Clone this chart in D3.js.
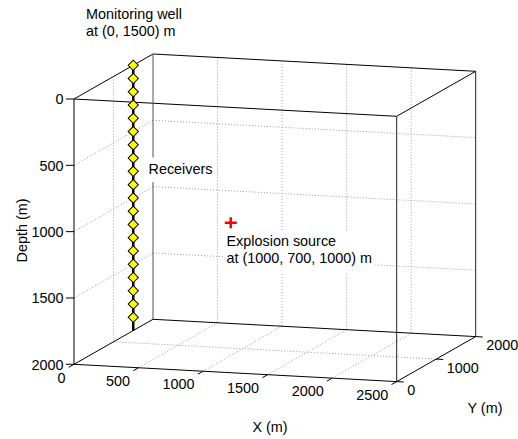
<!DOCTYPE html>
<html>
<head>
<meta charset="utf-8">
<script src="https://cdn.jsdelivr.net/npm/d3@7/dist/d3.min.js"></script>
<style>
  html, body { margin: 0; padding: 0; background: #fff; }
  svg text { font-family: "Liberation Sans", Arial, Helvetica, sans-serif; font-size: 14.4px; fill: #000; }
</style>
</head>
<body>
<svg id="chart" width="518" height="439"></svg>
<script>
// Survey geometry (metres)
const xDomain = [0, 2500];
const yDomain = [0, 2000];
const depthDomain = [0, 2000];

const xTicks = [0, 500, 1000, 1500, 2000, 2500];
const yTicks = [0, 1000, 2000];
const depthTicks = [0, 500, 1000, 1500, 2000];

const xGrid = [500, 1000, 1500, 2000];
const yGrid = [1000];
const depthGrid = [500, 1000, 1500];

// Monitoring well at (x, y) and its vertical extent
const wellXY = [0, 1500];
const wellDepthRange = [0, 2000];
// Receiver depths along the well
const receiverDepths = [0, 100, 200, 300, 400, 500, 600, 700, 800, 900,
                        1000, 1100, 1200, 1300, 1400, 1500, 1600, 1700, 1800, 1900];
// Explosion source (x, y, depth)
const source = [1000, 700, 1000];

// Scales map each coordinate onto [0, 1] of its box edge
const xs = d3.scaleLinear().domain(xDomain).range([0, 1]);
const ys = d3.scaleLinear().domain(yDomain).range([0, 1]);
const zs = d3.scaleLinear().domain(depthDomain).range([0, 1]);

// Oblique projection of the box: origin (front-top-left) and edge vectors
const origin = [74, 99];
const ex = [322.7, 17.3];
const ey = [79, -45];
const ez = [0, 265.3];

function proj(x, y, z) {
  const fx = xs(x), fy = ys(y), fz = zs(z);
  return [origin[0] + fx * ex[0] + fy * ey[0] + fz * ez[0],
          origin[1] + fx * ex[1] + fy * ey[1] + fz * ez[1]];
}

const svg = d3.select("#chart");
const line = d3.line();

const X0 = xDomain[0], X1 = xDomain[1];
const Y0 = yDomain[0], Y1 = yDomain[1];
const Z0 = depthDomain[0], Z1 = depthDomain[1];

// Dotted grid on the three back planes
const gridSegs = [];
// back wall (y = max)
xGrid.forEach(x => gridSegs.push([proj(x, Y1, Z0), proj(x, Y1, Z1)]));
depthGrid.forEach(z => gridSegs.push([proj(X0, Y1, z), proj(X1, Y1, z)]));
// left wall (x = 0)
yGrid.forEach(y => gridSegs.push([proj(X0, y, Z0), proj(X0, y, Z1)]));
depthGrid.forEach(z => gridSegs.push([proj(X0, Y0, z), proj(X0, Y1, z)]));
// floor (depth = max)
xGrid.forEach(x => gridSegs.push([proj(x, Y0, Z1), proj(x, Y1, Z1)]));
yGrid.forEach(y => gridSegs.push([proj(X0, y, Z1), proj(X1, y, Z1)]));

svg.append("g").selectAll("path").data(gridSegs).join("path")
  .attr("d", d => line(d))
  .attr("fill", "none")
  .attr("stroke", "#9a9a9a")
  .attr("stroke-width", 1)
  .attr("stroke-dasharray", "1,2");

// Box edges
const edges = [
  [[X0, Y0, Z0], [X1, Y0, Z0], "#000"],
  [[X0, Y1, Z0], [X1, Y1, Z0], "#000"],
  [[X0, Y0, Z0], [X0, Y1, Z0], "#000"],
  [[X1, Y0, Z0], [X1, Y1, Z0], "#000"],
  [[X0, Y0, Z1], [X1, Y0, Z1], "#000"],
  [[X0, Y1, Z1], [X1, Y1, Z1], "#000"],
  [[X0, Y0, Z1], [X0, Y1, Z1], "#000"],
  [[X1, Y0, Z1], [X1, Y1, Z1], "#000"],
  [[X0, Y0, Z0], [X0, Y0, Z1], "#000"],
  [[X1, Y0, Z0], [X1, Y0, Z1], "#222"],
  [[X1, Y1, Z0], [X1, Y1, Z1], "#222"],
  [[X0, Y1, Z0], [X0, Y1, Z1], "#555"]
];
svg.append("g").selectAll("path").data(edges).join("path")
  .attr("d", d => line([proj(...d[0]), proj(...d[1])]))
  .attr("fill", "none")
  .attr("stroke", d => d[2])
  .attr("stroke-width", 1);

// Depth axis (front-left edge): ticks to the left
const zAxis = svg.append("g");
depthTicks.forEach(z => {
  const p = proj(X0, Y0, z);
  zAxis.append("line").attr("x1", p[0] - 8).attr("y1", p[1]).attr("x2", p[0]).attr("y2", p[1])
    .attr("stroke", "#000");
  zAxis.append("text").attr("x", p[0] - 10.5).attr("y", p[1] + 5.3)
    .attr("text-anchor", "end").text(z);
});

// X axis (front-bottom edge): ticks point toward the viewer
const xAxis = svg.append("g");
const eyLen = Math.hypot(ey[0], ey[1]);
xTicks.forEach(x => {
  const p = proj(x, Y0, Z1);
  xAxis.append("line")
    .attr("x1", p[0]).attr("y1", p[1])
    .attr("x2", p[0] - 6 * ey[0] / eyLen).attr("y2", p[1] - 6 * ey[1] / eyLen)
    .attr("stroke", "#000");
  xAxis.append("text").attr("x", p[0] - 8.5).attr("y", p[1] + 18.2)
    .attr("text-anchor", "end").text(x);
});

// Y axis (bottom-right edge): ticks point along +x
const yAxis = svg.append("g");
const exLen = Math.hypot(ex[0], ex[1]);
yTicks.forEach(y => {
  const p = proj(X1, y, Z1);
  yAxis.append("line")
    .attr("x1", p[0]).attr("y1", p[1])
    .attr("x2", p[0] + 7 * ex[0] / exLen).attr("y2", p[1] + 7 * ex[1] / exLen)
    .attr("stroke", "#000");
  yAxis.append("text").attr("x", p[0] + 10.5).attr("y", p[1] + 13.8)
    .attr("text-anchor", "start").text(y);
});

// Axis titles
svg.append("text").attr("x", 270).attr("y", 431.7).attr("text-anchor", "middle").text("X (m)");
svg.append("text").attr("x", 485).attr("y", 413.3).attr("text-anchor", "middle").text("Y (m)");
svg.append("text").attr("transform", "translate(26.5,230.5) rotate(-90)")
  .attr("text-anchor", "middle").text("Depth (m)");

// Monitoring well
svg.append("path")
  .attr("d", line([proj(wellXY[0], wellXY[1], wellDepthRange[0]),
                   proj(wellXY[0], wellXY[1], wellDepthRange[1])]))
  .attr("stroke", "#000").attr("stroke-width", 2.5).attr("fill", "none");

// Receivers (diamonds)
const diamond = d3.symbol(d3.symbolSquare, 52)();
svg.append("g").selectAll("path").data(receiverDepths).join("path")
  .attr("d", diamond)
  .attr("transform", d => {
    const p = proj(wellXY[0], wellXY[1], d);
    return `translate(${p[0]},${p[1]}) rotate(45)`;
  })
  .attr("fill", "#ffff00")
  .attr("stroke", "#000")
  .attr("stroke-width", 1);

// Explosion source (+)
const sp = proj(source[0], source[1], source[2]);
svg.append("path")
  .attr("d", `M${sp[0] - 6},${sp[1]}H${sp[0] + 6}M${sp[0]},${sp[1] - 5.5}V${sp[1] + 5.5}`)
  .attr("stroke", "#ff0000").attr("stroke-width", 2.5).attr("fill", "none");

// Annotations with white backing
function note(x, y, lines, padTop, padBottom) {
  const g = svg.append("g");
  const rect = g.append("rect").attr("fill", "#fff");
  const t = g.append("text");
  lines.forEach((s, i) => t.append("tspan").attr("x", x).attr("y", y + i * 17).text(s));
  const bb = t.node().getBBox();
  if (padTop != null) {
    rect.attr("x", bb.x - 3).attr("y", y - padTop)
      .attr("width", bb.width + 6)
      .attr("height", (lines.length - 1) * 17 + padTop + padBottom);
  }
}
note(86, 19.3, ["Monitoring well", "at (0, 1500) m"]);
note(148.5, 174, ["Receivers"], 16.5, 8);
note(226.5, 245.7, ["Explosion source", "at (" + source.join(", ") + ") m"], 14, 9.5);
</script>
</body>
</html>
